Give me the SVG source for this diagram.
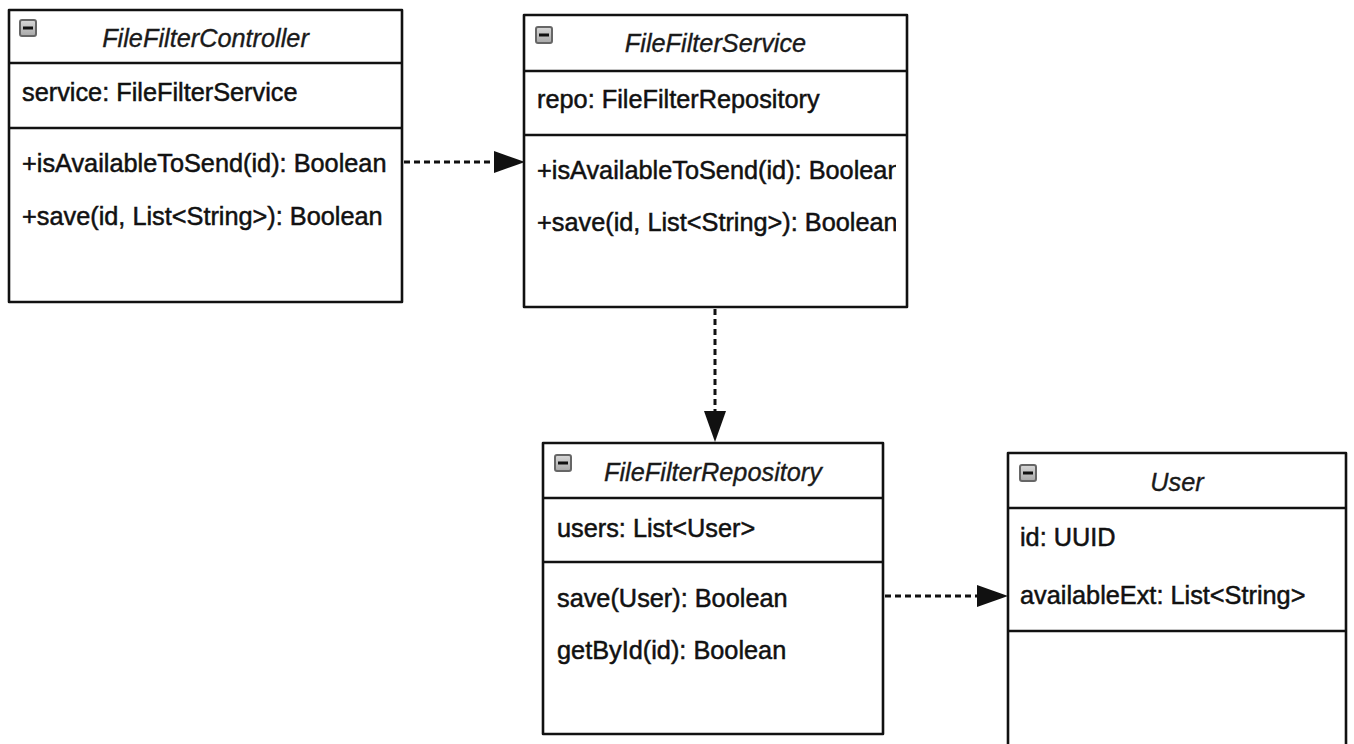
<svg xmlns="http://www.w3.org/2000/svg" width="1354" height="744" viewBox="0 0 1354 744">
  <style>
    .box { fill: #ffffff; stroke: #111111; stroke-width: 2.6; stroke-linejoin: round; }
    .div { stroke: #111111; stroke-width: 2.6; fill: none; }
    .title { font-family: "Liberation Sans", Arial, sans-serif; font-size: 25.3px; font-style: italic; fill: #1a1a1a; stroke: #1a1a1a; stroke-width: 0.35; text-anchor: middle; }
    .txt { font-family: "Liberation Sans", Arial, sans-serif; font-size: 25.3px; fill: #111111; stroke: #111111; stroke-width: 0.5; }
    .dep { fill: none; stroke: #111111; stroke-width: 3; stroke-dasharray: 6 4; }
  </style>
  <defs>
    <linearGradient id="iconFill" x1="0" y1="0" x2="0" y2="1">
      <stop offset="0" stop-color="#d8d8d8"/>
      <stop offset="1" stop-color="#a8a8a8"/>
    </linearGradient>
    <!-- collapse toggle shown in each class header -->
    <g id="toggle">
      <rect x="-8" y="-8" width="16" height="16" rx="2" fill="url(#iconFill)" stroke="#666666" stroke-width="2"/>
      <rect x="-5" y="-1.5" width="10" height="3" fill="#111111"/>
    </g>
    <marker id="arrow" markerUnits="userSpaceOnUse" markerWidth="31" markerHeight="24" refX="0" refY="12" orient="auto">
      <path d="M0,1 L31,12 L0,23 z" fill="#111111"/>
    </marker>
    <clipPath id="serviceClip">
      <rect x="524" y="135" width="372" height="172"/>
    </clipPath>
  </defs>

  <!-- dependencies -->
  <g id="connectors">
    <path class="dep" d="M404,162 L494,162" marker-end="url(#arrow)"/>
    <path class="dep" d="M715,309 L715,411" marker-end="url(#arrow)"/>
    <path class="dep" d="M885,596 L977,596" marker-end="url(#arrow)"/>
  </g>

  <g id="FileFilterController">
    <rect class="box" x="9" y="10" width="393" height="292"/>
    <line class="div" x1="9" y1="63" x2="402" y2="63"/>
    <line class="div" x1="9" y1="128" x2="402" y2="128"/>
    <use href="#toggle" x="28" y="28"/>
    <text class="title" x="205.5" y="47">FileFilterController</text>
    <text class="txt" x="22" y="101">service: FileFilterService</text>
    <text class="txt" x="22" y="172">+isAvailableToSend(id): Boolean</text>
    <text class="txt" x="22" y="225">+save(id, List&lt;String&gt;): Boolean</text>
  </g>

  <g id="FileFilterService">
    <rect class="box" x="524" y="15" width="383" height="292"/>
    <line class="div" x1="524" y1="71" x2="907" y2="71"/>
    <line class="div" x1="524" y1="135" x2="907" y2="135"/>
    <use href="#toggle" x="544" y="35"/>
    <text class="title" x="715.5" y="52">FileFilterService</text>
    <text class="txt" x="537" y="108">repo: FileFilterRepository</text>
    <g clip-path="url(#serviceClip)">
      <text class="txt" x="537" y="179">+isAvailableToSend(id): Boolean</text>
      <text class="txt" x="537" y="231">+save(id, List&lt;String&gt;): Boolean</text>
    </g>
  </g>

  <g id="FileFilterRepository">
    <rect class="box" x="543" y="443" width="340" height="291"/>
    <line class="div" x1="543" y1="498" x2="883" y2="498"/>
    <line class="div" x1="543" y1="562" x2="883" y2="562"/>
    <use href="#toggle" x="563" y="463"/>
    <text class="title" x="713" y="481">FileFilterRepository</text>
    <text class="txt" x="557" y="537">users: List&lt;User&gt;</text>
    <text class="txt" x="557" y="607">save(User): Boolean</text>
    <text class="txt" x="557" y="659">getById(id): Boolean</text>
  </g>

  <g id="User">
    <rect class="box" x="1008" y="453" width="338" height="310"/>
    <line class="div" x1="1008" y1="508" x2="1346" y2="508"/>
    <line class="div" x1="1008" y1="631" x2="1346" y2="631"/>
    <use href="#toggle" x="1028" y="473"/>
    <text class="title" x="1177" y="491">User</text>
    <text class="txt" x="1020" y="546">id: UUID</text>
    <text class="txt" x="1020" y="604">availableExt: List&lt;String&gt;</text>
  </g>
</svg>
